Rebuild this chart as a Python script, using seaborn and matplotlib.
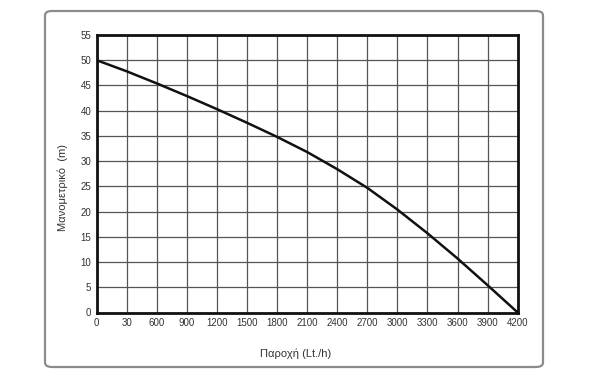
import matplotlib
matplotlib.use("Agg")
import matplotlib.pyplot as plt
from matplotlib.patches import FancyBboxPatch
import pandas as pd
import seaborn as sns

# pump curve
flow = [0, 300, 600, 900, 1200, 1500, 1800, 2100, 2400, 2700, 3000, 3300, 3600, 3900, 4200]
head = [50, 47.8, 45.4, 42.9, 40.3, 37.6, 34.8, 31.8, 28.4, 24.7, 20.4, 15.7, 10.7, 5.4, 0]

x_ticks = list(range(0, 4201, 300))
x_tick_labels = ["0", "30", "600", "900", "1200", "1500", "1800", "2100", "2400",
                 "2700", "3000", "3300", "3600", "3900", "4200"]
y_ticks = list(range(0, 56, 5))

df = pd.DataFrame({"flow": flow, "head": head})

sns.set_style("white")
plt.rcParams["font.family"] = ["Liberation Sans", "DejaVu Sans"]

fig = plt.figure(figsize=(5.9, 3.72), dpi=100)

# rounded frame around the whole chart (no fill, so the axes stay visible)
frame = FancyBboxPatch((45 / 590, 1 - 367 / 372), (543 - 45) / 590, (367 - 11) / 372,
                       boxstyle="round,pad=0,rounding_size=0.012",
                       transform=fig.transFigure, facecolor="none",
                       edgecolor="#8c8c8c", linewidth=1.6)
fig.patches.append(frame)

ax = fig.add_axes([96.7 / 590, 1 - 312.5 / 372, 421 / 590, 277.5 / 372])
ax.set_facecolor("white")

sns.lineplot(data=df, x="flow", y="head", ax=ax, color="#111111", linewidth=1.8, zorder=3)

ax.set_xlim(0, 4200)
ax.set_ylim(0, 55)
ax.set_xticks(x_ticks)
ax.set_xticklabels(x_tick_labels)
ax.set_yticks(y_ticks)
ax.grid(True, color="#555555", linewidth=0.9)
ax.tick_params(length=0, labelsize=7, labelcolor="#333333", pad=4)

for side in ax.spines.values():
    side.set_visible(True)
    side.set_color("#111111")
    side.set_linewidth(2)

ax.set_xlabel("Παροχή (Lt./h)", fontsize=8, color="#333333")
ax.set_ylabel("Μανομετρικό  (m)", fontsize=8, color="#333333")
ax.xaxis.set_label_coords(0.472, -0.128)
ax.yaxis.set_label_coords(-0.068, 0.449)

fig.savefig("out.png", dpi=100)
